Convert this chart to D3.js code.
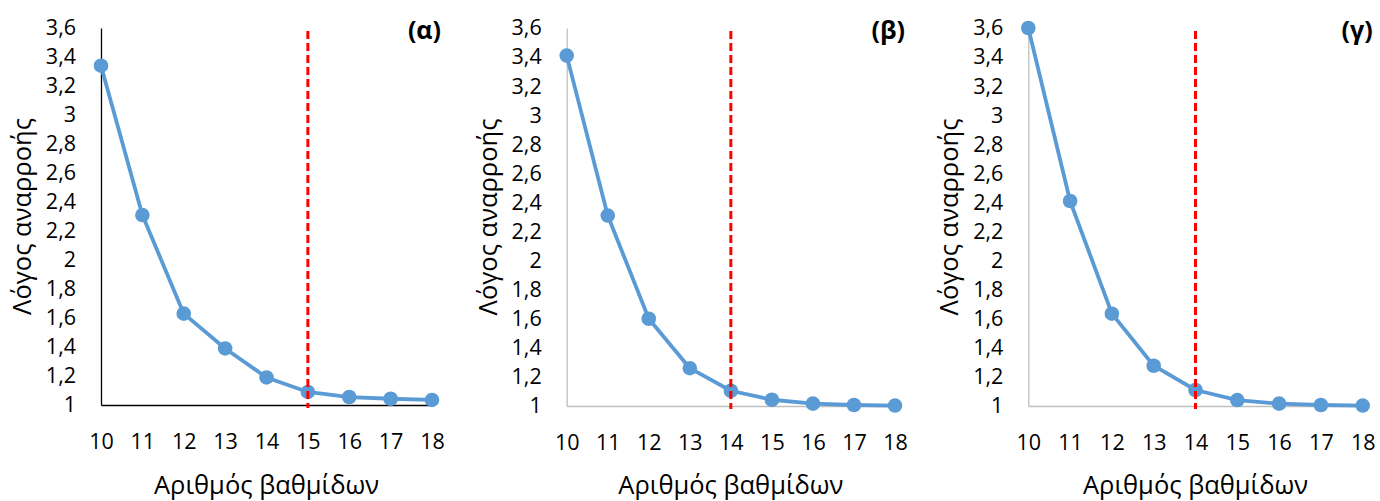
<!DOCTYPE html>
<html>
<head>
<meta charset="utf-8">
<script src="https://cdn.jsdelivr.net/npm/d3@7"></script>
<style>
  body { margin: 0; background: #fff; }
  svg { display: block; font-family: "Open Sans", "Noto Sans", sans-serif; }
</style>
</head>
<body>
<svg id="chart"></svg>
<script>
var stages = [10, 11, 12, 13, 14, 15, 16, 17, 18];
var yTicks = [1, 1.2, 1.4, 1.6, 1.8, 2, 2.2, 2.4, 2.6, 2.8, 3, 3.2, 3.4, 3.6];
var ratioA = [3.34, 2.31, 1.63, 1.39, 1.19, 1.09, 1.055, 1.043, 1.035];
var ratioB = [3.41, 2.31, 1.6, 1.26, 1.105, 1.043, 1.016, 1.007, 1.003];
var ratioC = [3.6, 2.41, 1.635, 1.277, 1.11, 1.041, 1.016, 1.007, 1.003];
var panelLabels = ['(α)', '(β)', '(γ)'];
var markedStage = [15, 14, 14];
var xTitle = 'Αριθμός βαθμίδων';
var yTitle = 'Λόγος αναρροής';

var config = {
  svgWidth: 1380,
  svgHeight: 501,
  top: 28,
  lineColor: '#5b9bd5',
  lineWidth: 3.8,
  markerRadius: 7.3,
  tickFontSize: 21.5,
  titleFontSize: 25.5,
  labelFontSize: 25,
}

var panels = [
  { values: ratioA, left: 101, right: 432, bottom: 405, axisColor: '#000' },
  { values: ratioB, left: 566.7, right: 895, bottom: 406, axisColor: '#bfbfbf' },
  { values: ratioC, left: 1028.3, right: 1362.7, bottom: 406, axisColor: '#bfbfbf' },
];

var svg = d3.select('#chart')
  .attr('width', config.svgWidth)
  .attr('height', config.svgHeight);

var fmt = function(d) { return d3.format('~g')(d).replace('.', ','); };

panels.forEach(function(p, i) {
  var g = svg.append('g');

  var x = d3.scaleLinear()
    .domain([stages[0], stages[stages.length - 1]])
    .range([p.left, p.right]);

  var y = d3.scaleLinear()
    .domain([1, 3.6])
    .range([p.bottom, config.top]);

  // axes
  var xAxis = g.append('g')
    .attr('transform', 'translate(0,' + y(1) + ')')
    .call(d3.axisBottom(x).tickValues(stages).tickSize(0).tickPadding(29).tickFormat(d3.format('d')))
    .attr('font-family', null)
    .attr('font-size', config.tickFontSize);
  xAxis.select('.domain').attr('stroke', p.axisColor).attr('stroke-width', 1.3);
  xAxis.selectAll('text').attr('fill', '#000');

  var yAxis = g.append('g')
    .attr('transform', 'translate(' + x(stages[0]) + ',0)')
    .call(d3.axisLeft(y).tickValues(yTicks).tickSize(0).tickPadding(25).tickFormat(fmt))
    .attr('font-family', null)
    .attr('font-size', config.tickFontSize);
  yAxis.select('.domain').attr('stroke', p.axisColor).attr('stroke-width', 1.3);
  yAxis.selectAll('text').attr('fill', '#000');

  // titles
  g.append('text')
    .attr('x', (p.left + p.right) / 2)
    .attr('y', 494)
    .attr('text-anchor', 'middle')
    .attr('font-size', config.titleFontSize)
    .attr('fill', '#000')
    .text(xTitle);

  g.append('text')
    .attr('transform', 'translate(' + (p.left - 70) + ',' + ((y(1) + y(3.6)) / 2) + ') rotate(-90)')
    .attr('text-anchor', 'middle')
    .attr('font-size', config.titleFontSize)
    .attr('fill', '#000')
    .text(yTitle);

  g.append('text')
    .attr('x', p.right + (i === 0 ? 9 : 10))
    .attr('y', 39)
    .attr('text-anchor', 'end')
    .attr('font-size', config.labelFontSize)
    .attr('font-weight', 'bold')
    .attr('fill', '#000')
    .text(panelLabels[i]);

  // series
  var line = d3.line()
    .x(function(d, j) { return x(stages[j]); })
    .y(function(d) { return y(d); });

  g.append('path')
    .attr('d', line(p.values))
    .attr('fill', 'none')
    .attr('stroke', config.lineColor)
    .attr('stroke-width', config.lineWidth)
    .attr('stroke-linejoin', 'round');

  g.selectAll('.dot')
    .data(p.values)
    .enter().append('circle')
    .attr('cx', function(d, j) { return x(stages[j]); })
    .attr('cy', function(d) { return y(d); })
    .attr('r', config.markerRadius)
    .attr('fill', config.lineColor);

  // marked stage
  g.append('line')
    .attr('x1', x(markedStage[i]))
    .attr('x2', x(markedStage[i]))
    .attr('y1', y(3.6) + 3)
    .attr('y2', y(1) + 3)
    .attr('stroke', '#ff0000')
    .attr('stroke-width', 3)
    .attr('stroke-dasharray', '8,4');
});
</script>
</body>
</html>
